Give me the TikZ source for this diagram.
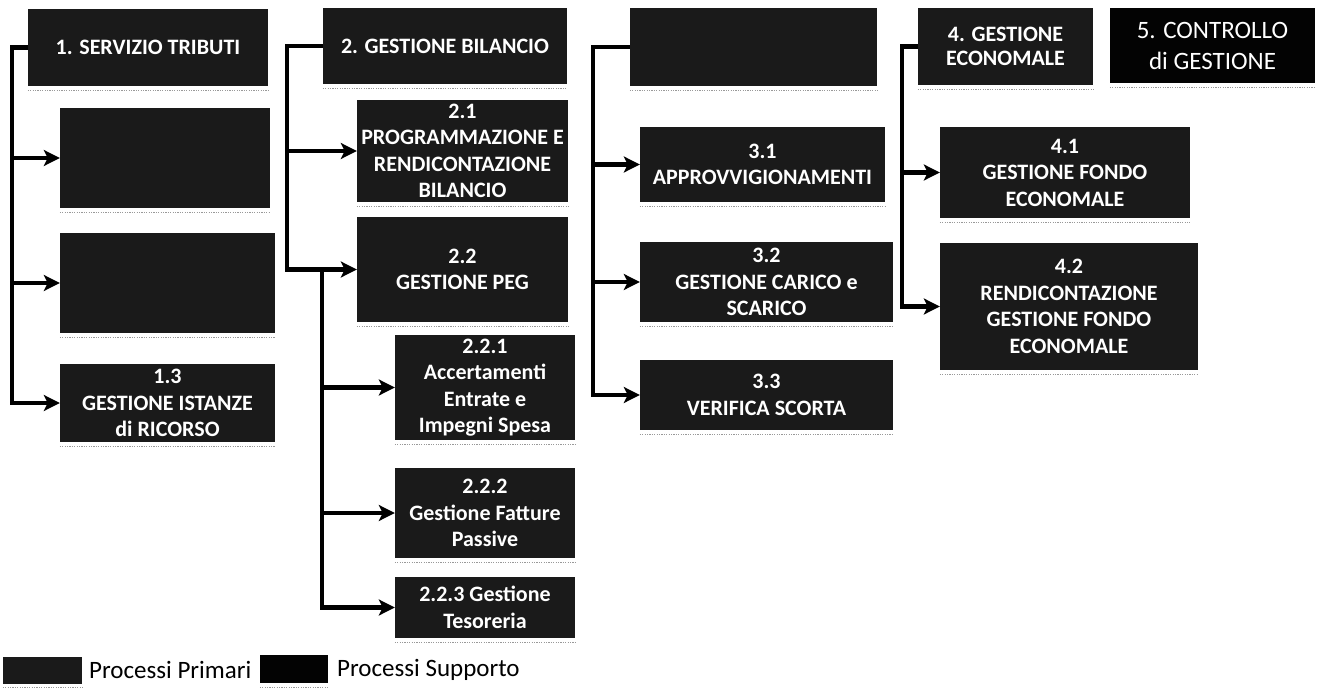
\documentclass[tikz,border=0pt]{standalone}
\usepackage{fontspec}
\setmainfont{Carlito}
\usetikzlibrary{arrows.meta}
\definecolor{boxdark}{HTML}{1A1A1A}
\definecolor{suppdark}{HTML}{030303}
\begin{document}
\begin{tikzpicture}[x=1pt,y=-1pt,
  prim/.style={fill=boxdark, draw=none, text=white, inner sep=0pt, align=center,
    font=\fontsize{22}{26.5}\selectfont\bfseries},
  supp/.style={fill=suppdark, draw=none, text=white, inner sep=0pt, align=center,
    font=\fontsize{25}{31}\selectfont},
  trunk/.style={line width=4.5pt, line join=miter, draw=black},
  arr/.style={trunk, -{Stealth[length=16pt,width=16pt,inset=4pt]}},
  dotline/.style={draw=gray!80, line width=1.2pt, dash pattern=on 1.2pt off 1.2pt},
  legtext/.style={font=\fontsize{25}{30}\selectfont, anchor=west, inner sep=0pt}
]
\useasboundingbox (0,0) rectangle (1319,695);
\fill[white] (0,0) rectangle (1319,695);

% column 1
\node[prim, minimum width=240, minimum height=77] (h1) at (148,47.5) {1. SERVIZIO TRIBUTI};
\node[prim, minimum width=210, minimum height=100] (b11) at (165,158) {};
\node[prim, minimum width=215, minimum height=100] (b12) at (167.5,283) {};
\node[prim, minimum width=215, minimum height=78] (b13) at (167.5,403) {1.3\\GESTIONE ISTANZE\\di RICORSO};

% column 2
\node[prim, minimum width=244, minimum height=76] (h2) at (445,46) {2. GESTIONE BILANCIO};
\node[prim, minimum width=211, minimum height=102] (b21) at (462.5,151) {2.1\\PROGRAMMAZIONE E\\RENDICONTAZIONE\\BILANCIO};
\node[prim, minimum width=211, minimum height=105] (b22) at (462.5,269.5) {2.2\\GESTIONE PEG};
\node[prim, minimum width=180, minimum height=105] (b221) at (485,387.5) {2.2.1\\Accertamenti\\Entrate e\\Impegni Spesa};
\node[prim, minimum width=180, minimum height=90] (b222) at (485,513) {2.2.2\\Gestione Fatture\\Passive};
\node[prim, minimum width=180, minimum height=61] (b223) at (485,607.5) {2.2.3 Gestione\\Tesoreria};

% column 3
\node[prim, minimum width=247, minimum height=78] (h3) at (753.5,47) {};
\node[prim, minimum width=245, minimum height=75] (b31) at (762.5,164.5) {3.1\\APPROVVIGIONAMENTI};
\node[prim, minimum width=253, minimum height=80] (b32) at (766.5,282) {3.2\\GESTIONE CARICO e\\SCARICO};
\node[prim, minimum width=253, minimum height=70] (b33) at (766.5,395) {3.3\\VERIFICA SCORTA};

% column 4 and 5
\node[prim, minimum width=175, minimum height=77, font=\fontsize{22}{24.5}\selectfont\bfseries] (h4) at (1005.5,46.5) {4. GESTIONE\\ECONOMALE};
\node[supp, minimum width=205, minimum height=75] (h5) at (1212.5,45.5) {5. CONTROLLO\\di GESTIONE};
\node[prim, minimum width=250, minimum height=91] (b41) at (1065,172.5) {4.1\\GESTIONE FONDO\\ECONOMALE};
\node[prim, minimum width=258, minimum height=127] (b42) at (1069,306.5) {4.2\\RENDICONTAZIONE\\GESTIONE FONDO\\ECONOMALE};

% trunk positions
\coordinate (t1) at (12,0);
\coordinate (t2) at (287,0);
\coordinate (t2b) at (322,0);
\coordinate (t3) at (593,0);
\coordinate (t4) at (902,0);

% connectors column 1
\draw[arr] (h1.west) -| (t1 |- b13.west) -- (b13.west);
\draw[arr] (t1 |- b11.west) -- (b11.west);
\draw[arr] (t1 |- b12.west) -- (b12.west);

% connectors column 2
\draw[arr] (h2.west) -| (t2 |- b22.west) -- (b22.west);
\draw[arr] (t2 |- b21.west) -- (b21.west);
\draw[arr] (t2b |- b22.west) -- (t2b |- b223.west) -- (b223.west);
\draw[arr] (t2b |- b221.west) -- (b221.west);
\draw[arr] (t2b |- b222.west) -- (b222.west);

% connectors column 3
\draw[arr] (h3.west) -| (t3 |- b33.west) -- (b33.west);
\draw[arr] (t3 |- b31.west) -- (b31.west);
\draw[arr] (t3 |- b32.west) -- (b32.west);

% connectors column 4
\draw[arr] (h4.west) -| (t4 |- b42.west) -- (b42.west);
\draw[arr] (t4 |- b41.west) -- (b41.west);

% dotted lines under boxes
\foreach \n in {h1,b11,b12,b13,h2,b21,b22,b221,b222,b223,h3,b31,b32,b33,h4,h5,b41,b42}
  \draw[dotline] ([yshift=-4pt]\n.south west) -- ([yshift=-4pt]\n.south east);

% legend
\node[prim, minimum width=79, minimum height=27] (lp) at (42.5,670) {};
\node[legtext] (lpt) at (89,670) {Processi Primari};
\node[supp, minimum width=68, minimum height=28] (ls) at (294,669) {};
\node[legtext] (lst) at (337,670) {Processi Supporto};
\draw[dotline] ([yshift=-4pt]lp.south west) -- ([yshift=-4pt]lp.south east);
\draw[dotline] ([yshift=-4pt]ls.south west) -- ([yshift=-4pt]ls.south east);
\end{tikzpicture}
\end{document}
